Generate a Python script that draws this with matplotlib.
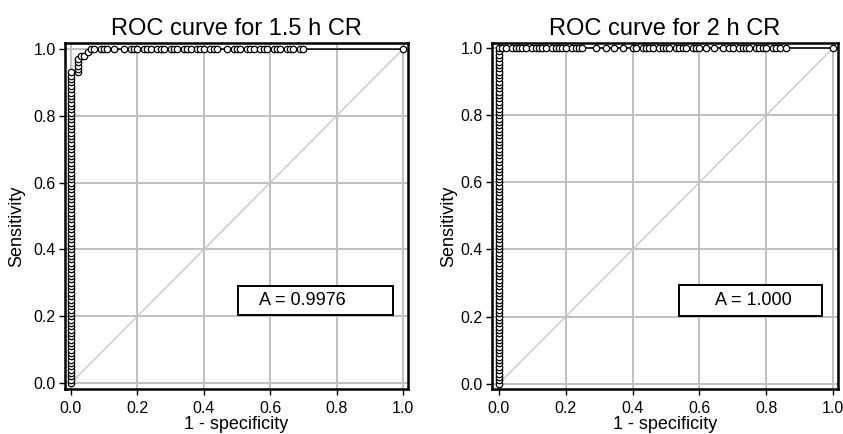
import matplotlib.pyplot as plt
from matplotlib.patches import Rectangle

plt.rcParams['font.family'] = ['Liberation Sans', 'DejaVu Sans']

# ROC 1.5 h CR: vertical run at 1 - specificity = 0
sens_15_vert = [0.00, 0.01, 0.02, 0.03, 0.04, 0.05, 0.06, 0.07, 0.08, 0.09, 0.10, 0.11,
                0.12, 0.13, 0.14, 0.15, 0.16, 0.17, 0.18, 0.19, 0.20, 0.21, 0.22, 0.23,
                0.24, 0.25, 0.26, 0.27, 0.28, 0.29, 0.30, 0.31, 0.32, 0.33, 0.34, 0.35,
                0.36, 0.37, 0.38, 0.39, 0.40, 0.41, 0.42, 0.43, 0.44, 0.45, 0.46, 0.47,
                0.48, 0.49, 0.50, 0.51, 0.52, 0.53, 0.54, 0.55, 0.56, 0.57, 0.58, 0.59,
                0.60, 0.61, 0.62, 0.63, 0.64, 0.65, 0.66, 0.67, 0.68, 0.69, 0.70, 0.71,
                0.72, 0.73, 0.74, 0.75, 0.76, 0.77, 0.78, 0.79, 0.80, 0.81, 0.82, 0.83,
                0.84, 0.85, 0.86, 0.87, 0.88, 0.89, 0.90, 0.91, 0.92, 0.93]
# corner of the 1.5 h curve
fpr_15_corner = [0.02, 0.02, 0.02, 0.02, 0.02, 0.03, 0.04, 0.05]
sens_15_corner = [0.93, 0.94, 0.95, 0.96, 0.97, 0.98, 0.98, 0.99]
# points along sensitivity = 1
fpr_15_top = [0.06, 0.07, 0.09, 0.10, 0.11, 0.13,
              0.16, 0.18, 0.19, 0.20, 0.22, 0.23, 0.24, 0.26, 0.27, 0.28, 0.30,
              0.31, 0.32, 0.34, 0.35, 0.36, 0.38, 0.39, 0.40, 0.42, 0.43, 0.44,
              0.47, 0.49, 0.50, 0.51, 0.53, 0.54, 0.55, 0.57, 0.58, 0.59, 0.61,
              0.62, 0.63, 0.65, 0.66, 0.67, 0.69, 0.70, 1.00]

# ROC 2 h CR
sens_2_vert = [0.00, 0.01, 0.02, 0.03, 0.04, 0.05, 0.06, 0.07, 0.08, 0.09, 0.10, 0.11,
               0.12, 0.13, 0.14, 0.15, 0.16, 0.17, 0.18, 0.19, 0.20, 0.21, 0.22, 0.23,
               0.24, 0.25, 0.26, 0.27, 0.28, 0.29, 0.30, 0.31, 0.32, 0.33, 0.34, 0.35,
               0.36, 0.37, 0.38, 0.39, 0.40, 0.41, 0.42, 0.43, 0.44, 0.45, 0.46, 0.47,
               0.48, 0.49, 0.50, 0.51, 0.52, 0.53, 0.54, 0.55, 0.56, 0.57, 0.58, 0.59,
               0.60, 0.61, 0.62, 0.63, 0.64, 0.65, 0.66, 0.67, 0.68, 0.69, 0.70, 0.71,
               0.72, 0.73, 0.74, 0.75, 0.76, 0.77, 0.78, 0.79, 0.80, 0.81, 0.82, 0.83,
               0.84, 0.85, 0.86, 0.87, 0.88, 0.89, 0.90, 0.91, 0.92, 0.93, 0.94, 0.95,
               0.96, 0.97, 0.98, 0.99, 1.00]
fpr_2_top = [0.01, 0.02, 0.04, 0.05, 0.06, 0.07, 0.08, 0.10, 0.11, 0.12, 0.13, 0.14,
             0.16, 0.17, 0.18, 0.19, 0.20, 0.22, 0.23, 0.24, 0.25,
             0.29,
             0.32, 0.345, 0.37,
             0.40, 0.41, 0.43, 0.44, 0.45, 0.46, 0.48, 0.49, 0.50, 0.51, 0.53, 0.54,
             0.55, 0.56, 0.58, 0.59, 0.60,
             0.62, 0.645, 0.67,
             0.69, 0.70, 0.72, 0.73, 0.74, 0.75, 0.77, 0.78, 0.79, 0.80, 0.82, 0.83,
             0.84, 0.86, 1.00]

ticks = [0.0, 0.2, 0.4, 0.6, 0.8, 1.0]
tick_labels = ['0.0', '0.2', '0.4', '0.6', '0.8', '1.0']

fpr_15 = [0.0] * len(sens_15_vert) + fpr_15_corner + fpr_15_top
tpr_15 = sens_15_vert + sens_15_corner + [1.0] * len(fpr_15_top)
fpr_2 = [0.0] * len(sens_2_vert) + fpr_2_top
tpr_2 = sens_2_vert + [1.0] * len(fpr_2_top)

panels = [
    dict(rect=[0.0771, 0.1037, 0.4069, 0.797], xlim=(-0.018, 1.015), ylim=(-0.018, 1.018),
         x=fpr_15, y=tpr_15, title='ROC curve for 1.5 h CR', auc='A = 0.9976',
         box=(0.503, 0.204, 0.467, 0.086), text_x=0.566, ylab_x=-0.117),
    dict(rect=[0.5836, 0.1037, 0.4104, 0.797], xlim=(-0.021, 1.015), ylim=(-0.016, 1.015),
         x=fpr_2, y=tpr_2, title='ROC curve for 2 h CR', auc='A = 1.000',
         box=(0.539, 0.202, 0.428, 0.092), text_x=0.647, ylab_x=-0.101),
]

fig = plt.figure(figsize=(8.43, 4.34), dpi=100)
for p in panels:
    ax = fig.add_axes(p['rect'])
    ax.set_xlim(*p['xlim'])
    ax.set_ylim(*p['ylim'])
    ax.set_xticks(ticks)
    ax.set_yticks(ticks)
    ax.set_xticklabels(tick_labels)
    ax.set_yticklabels(tick_labels)
    ax.grid(True, color='#c0c0c0', linewidth=1.4)
    ax.set_axisbelow(True)
    ax.plot([0, 1], [0, 1], color='#c8c8c8', linewidth=1.0, zorder=1)
    ax.plot(p['x'], p['y'], color='black', linewidth=1.1, marker='o', markersize=4.6,
            markerfacecolor='white', markeredgecolor='black', markeredgewidth=0.9, zorder=3)
    bx, by, bw, bh = p['box']
    ax.add_patch(Rectangle((bx, by), bw, bh, facecolor='white', edgecolor='black',
                           linewidth=1.4, zorder=4))
    ax.text(p['text_x'], by + bh / 2, p['auc'], fontsize=13, ha='left', va='center', zorder=5)
    for s in ax.spines.values():
        s.set_linewidth(1.8)
        s.set_color('black')
    ax.tick_params(direction='out', length=4, width=1, labelsize=11.5, pad=2.5)
    ax.tick_params(axis='x', pad=5)
    ax.set_title(p['title'], fontsize=17, pad=6)
    ax.set_xlabel('1 - specificity', fontsize=13, labelpad=0)
    ax.set_ylabel('Sensitivity', fontsize=13)
    ax.yaxis.set_label_coords(p['ylab_x'], 0.47)

fig.savefig('out.png', dpi=100)
